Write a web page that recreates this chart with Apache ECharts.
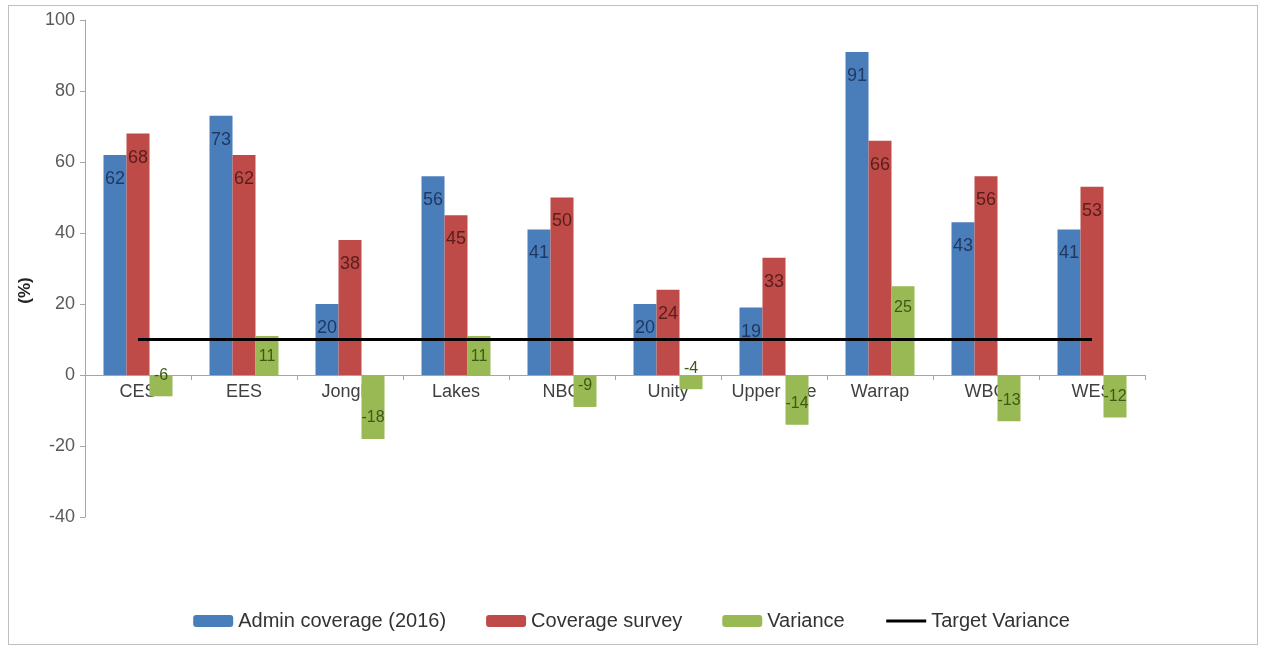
<!DOCTYPE html>
<html><head><meta charset="utf-8">
<script src="https://cdn.jsdelivr.net/npm/echarts@6/dist/echarts.min.js"></script>
<style>
html,body{margin:0;padding:0;background:#fff;}
#frame{position:absolute;left:8px;top:5px;width:1250px;height:640px;border:1px solid #bfbfbf;box-sizing:border-box;}
#c{position:absolute;left:0;top:0;width:1263px;height:649px;}
</style></head>
<body><div id="frame"></div><div id="c"></div>
<script>
const categories = ['CES','EES','Jonglei','Lakes','NBG','Unity','Upper Nile','Warrap','WBG','WES'];
const adminCoverage = [62,73,20,56,41,20,19,91,43,41];
const coverageSurvey = [68,62,38,45,50,24,33,66,56,53];
const variance = [-6,11,-18,11,-9,-4,-14,25,-13,-12];
const targetVariance = [10,10,10,10,10,10,10,10,10,10];
const yTicks = {min:-40,max:100,interval:20};

const font = 'Liberation Sans, Arial, sans-serif';
const gridTop = 20, gridBottom = 132, H = 649;
const plotH = H - gridTop - gridBottom;
// distance of the zero line above the bottom of the plot
const zeroOffset = plotH * (0 - yTicks.min) / (yTicks.max - yTicks.min);

const chart = echarts.init(document.getElementById('c'));
function items(arr){
  return arr.map(v => ({value:v, label:{position: v<0 ? 'insideBottom' : 'insideTop'}}));
}
chart.setOption({
  animation:false,
  grid:{left:85,top:gridTop,right:118,bottom:gridBottom},
  legend:{
    bottom:13,left:'center',itemGap:40,itemWidth:40,itemHeight:12,
    textStyle:{fontFamily:font,fontSize:20,color:'#333'},
    data:['Admin coverage (2016)','Coverage survey','Variance',
      {name:'Target Variance',itemStyle:{opacity:0},lineStyle:{color:'#000',width:3}}]
  },
  xAxis:{
    type:'category',data:categories,
    offset:-zeroOffset,
    axisLine:{onZero:false,lineStyle:{color:'#a6a6a6'}},
    axisTick:{show:true,alignWithLabel:false,length:5,lineStyle:{color:'#a6a6a6'}},
    axisLabel:{interval:0,fontFamily:font,fontSize:18,color:'#404040',margin:8,hideOverlap:false}
  },
  yAxis:{
    type:'value',min:yTicks.min,max:yTicks.max,interval:yTicks.interval,
    name:'(%)',nameLocation:'middle',nameGap:45,nameRotate:90,
    nameTextStyle:{fontFamily:font,fontSize:17,fontWeight:'bold',color:'#222',padding:[0,44,0,0]},
    axisLine:{show:true,lineStyle:{color:'#a6a6a6'}},
    axisTick:{show:true,length:5,lineStyle:{color:'#a6a6a6'}},
    splitLine:{show:false},
    axisLabel:{fontFamily:font,fontSize:18,color:'#595959',margin:10}
  },
  series:[
    {name:'Admin coverage (2016)',type:'bar',data:items(adminCoverage),barWidth:23,barGap:'0%',barCategoryGap:'35%',
     itemStyle:{color:'#4a7ebb'},
     label:{show:true,fontFamily:font,fontSize:18,color:'#1f3864',distance:15}},
    {name:'Coverage survey',type:'bar',data:items(coverageSurvey),barWidth:23,
     itemStyle:{color:'#be4b48'},
     label:{show:true,fontFamily:font,fontSize:18,color:'#5a1d1b',distance:15}},
    {name:'Variance',type:'bar',data:items(variance),barWidth:23,
     itemStyle:{color:'#98b954'},
     label:{show:true,fontFamily:font,fontSize:16,color:'#3b5a12',distance:13}},
    {name:'Target Variance',type:'line',data:targetVariance,symbol:'none',
     lineStyle:{color:'#000',width:3},itemStyle:{color:'#000'},z:5}
  ]
});
</script></body></html>
